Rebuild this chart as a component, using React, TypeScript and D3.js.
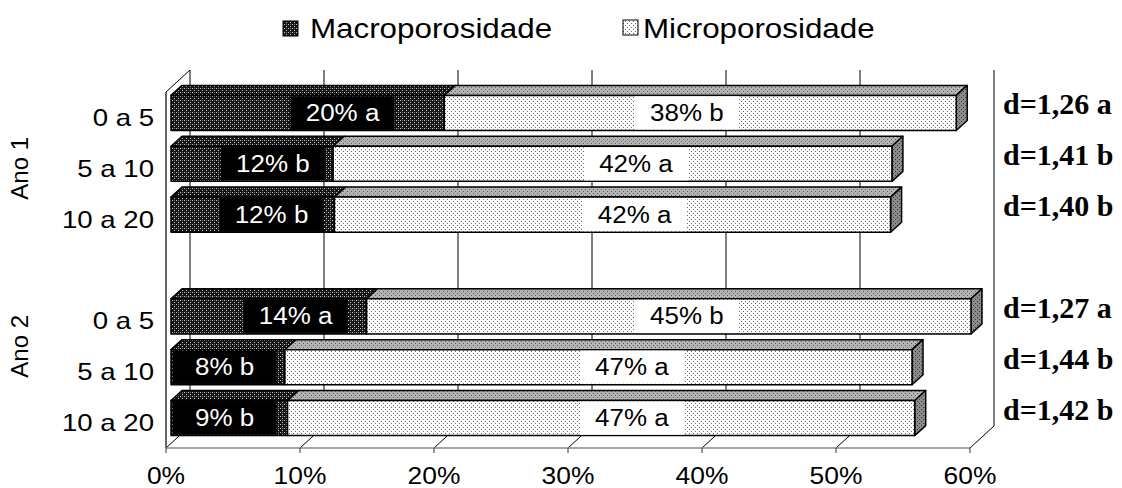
import * as d3 from "d3";

const groups = ["Ano 1", "Ano 2"];
const categories = ["0 a 5", "5 a 10", "10 a 20"];
const seriesNames = ["Macroporosidade", "Microporosidade"];

// per bar, top to bottom (Ano 1 then Ano 2)
const macro = [20.4, 12.1, 12.2, 14.6, 8.5, 8.7];
const micro = [38.2, 41.7, 41.5, 45.1, 46.8, 46.8];
const macroLabels = ["20% a", "12% b", "12% b", "14% a", "8% b", "9% b"];
const microLabels = ["38% b", "42% a", "42% a", "45% b", "47% a", "47% a"];
const densityLabels = ["d=1,26 a", "d=1,41 b", "d=1,40 b", "d=1,27 a", "d=1,44 b", "d=1,42 b"];
// the labels were placed by hand in the original, centre in % units
const macroLabelAt = [12.8, 7.6, 7.5, 9.3, 4.0, 4.0];
const microLabelAt = [38.5, 34.7, 34.6, 38.5, 34.4, 34.4];
const xTicks = [0, 10, 20, 30, 40, 50, 60];

const width = 1122;
const height = 488;
const sans = "'Liberation Sans', Arial, sans-serif";
const serif = "'Liberation Serif', 'Times New Roman', serif";

// 3d offsets
const wall = { dx: 24, dy: -22 };
const barFront = { dx: 5, dy: -4.5 };
const barDepth = { dx: 11, dy: -10 };

type Row = { key: string; group: string; cat: string; bar: number };

const rows: Row[] = [];
let barIdx = 0;
groups.forEach((g, gi) => {
  if (gi > 0) rows.push({ key: "gap" + gi, group: g, cat: "", bar: -1 });
  categories.forEach((c) => {
    rows.push({ key: g + "|" + c, group: g, cat: c, bar: barIdx++ });
  });
});

const x = d3.scaleLinear().domain([0, 60]).range([166, 970]);
const y = d3
  .scaleBand<string>()
  .domain(rows.map((r) => r.key))
  .range([92, 448])
  .paddingInner(0.31)
  .paddingOuter(0.155);

const floorY = 448;
const wallTop = 92;

const pts = (p: [number, number][]) => p.map((d) => d.join(",")).join(" ");

function Bar({ row }: { row: Row }) {
  const i = row.bar;
  const top = y(row.key)! + barFront.dy;
  const bot = top + y.bandwidth();
  const x0 = x(0) + barFront.dx;
  const xm = x(macro[i]) + barFront.dx;
  const x1 = x(macro[i] + micro[i]) + barFront.dx;
  const { dx, dy } = barDepth;
  const bw = 104;
  const mc = x(macroLabelAt[i]) + barFront.dx;
  const uc = x(microLabelAt[i]) + barFront.dx;
  const cy = (top + bot) / 2;
  const mLeft = Math.max(x0 + 1, mc - bw / 2);
  const mRight = Math.min(xm - 1, mc + bw / 2);
  return (
    <g stroke="#000" strokeWidth={1.5} strokeLinejoin="round">
      <polygon points={pts([[x0, top], [x0 + dx, top + dy], [xm + dx, top + dy], [xm, top]])} fill="url(#darkDots)" />
      <rect x={x0} y={top} width={xm - x0} height={bot - top} fill="url(#darkDots)" />
      <polygon points={pts([[xm, top], [xm + dx, top + dy], [x1 + dx, top + dy], [x1, top]])} fill="url(#greyDots)" />
      <polygon points={pts([[x1, top], [x1 + dx, top + dy], [x1 + dx, bot + dy], [x1, bot]])} fill="url(#sideDots)" />
      <rect x={xm} y={top} width={x1 - xm} height={bot - top} fill="url(#lightDots)" />
      <rect x={mLeft} y={top + 1} width={mRight - mLeft} height={bot - top - 2} fill="#000" stroke="none" />
      <rect x={uc - bw / 2} y={top + 1} width={bw} height={bot - top - 2} fill="#fff" stroke="none" />
      <text transform={`translate(${mc},${cy + 8}) scale(1.13,1)`} textAnchor="middle" fill="#fff" stroke="none" fontFamily={sans} fontSize={23}>
        {macroLabels[i]}
      </text>
      <text transform={`translate(${uc},${cy + 8}) scale(1.13,1)`} textAnchor="middle" fill="#000" stroke="none" fontFamily={sans} fontSize={23}>
        {microLabels[i]}
      </text>
    </g>
  );
}

export default function App() {
  const groupCenter = (g: string) => {
    const rs = rows.filter((r) => r.group === g);
    const a = y(rs[0].key)! - (y.step() - y.bandwidth()) / 2;
    const b = y(rs[rs.length - 1].key)! + y.bandwidth() + (y.step() - y.bandwidth()) / 2;
    return (a + b) / 2;
  };
  return (
    <svg width={width} height={height} viewBox={`0 0 ${width} ${height}`} style={{ display: "block", position: "absolute", left: 0, top: 0, background: "#fff" }}>
      <defs>
        <pattern id="darkDots" patternUnits="userSpaceOnUse" width={4} height={4}>
          <rect width={4} height={4} fill="#151515" />
          <rect x={0} y={0} width={1} height={1} fill="#c8c8c8" />
          <rect x={2} y={2} width={1} height={1} fill="#c8c8c8" />
          <rect x={2} y={0} width={1} height={1} fill="#6a6a6a" />
        </pattern>
        <pattern id="lightDots" patternUnits="userSpaceOnUse" width={4} height={4}>
          <rect width={4} height={4} fill="#fff" />
          <rect x={1} y={1} width={1} height={1} fill="#666" />
          <rect x={3} y={3} width={1} height={1} fill="#666" />
        </pattern>
        <pattern id="greyDots" patternUnits="userSpaceOnUse" width={4} height={4}>
          <rect width={4} height={4} fill="#b4b4b4" />
          <rect x={1} y={1} width={1} height={1} fill="#5a5a5a" />
          <rect x={3} y={3} width={1} height={1} fill="#5a5a5a" />
        </pattern>
        <pattern id="sideDots" patternUnits="userSpaceOnUse" width={4} height={4}>
          <rect width={4} height={4} fill="#8a8a8a" />
          <rect x={1} y={1} width={1} height={1} fill="#3a3a3a" />
          <rect x={3} y={3} width={1} height={1} fill="#3a3a3a" />
        </pattern>
      </defs>

      {/* back wall gridlines */}
      {xTicks.map((t) => (
        <line key={"g" + t} x1={x(t) + wall.dx} x2={x(t) + wall.dx} y1={wallTop + wall.dy} y2={floorY + wall.dy} stroke="#000" strokeWidth={1} />
      ))}
      {/* floor gridlines */}
      {xTicks.map((t) => (
        <line key={"f" + t} x1={x(t)} y1={floorY} x2={x(t) + wall.dx} y2={floorY + wall.dy} stroke="#000" strokeWidth={1} />
      ))}
      {/* left wall */}
      <line x1={x(0)} x2={x(0)} y1={wallTop} y2={floorY} stroke="#000" strokeWidth={1.2} />
      <line x1={x(0)} y1={wallTop} x2={x(0) + wall.dx} y2={wallTop + wall.dy} stroke="#000" strokeWidth={1} />
      {/* floor front edge and ticks */}
      <line x1={x(0)} x2={x(60)} y1={floorY} y2={floorY} stroke="#888" strokeWidth={1.5} />
      {xTicks.map((t) => (
        <line key={"t" + t} x1={x(t)} x2={x(t)} y1={floorY} y2={floorY + 5} stroke="#333" strokeWidth={1} />
      ))}
      {xTicks.map((t) => (
        <text key={"l" + t} transform={`translate(${x(t)},483.5) scale(1.1,1)`} textAnchor="middle" fontFamily={sans} fontSize={24} fill="#000">
          {t + "%"}
        </text>
      ))}

      {rows.filter((r) => r.bar >= 0).map((r) => (
        <Bar key={r.key} row={r} />
      ))}

      {/* category labels */}
      {rows.filter((r) => r.bar >= 0).map((r) => (
        <text key={"c" + r.key} transform={`translate(154,${y(r.key)! + y.bandwidth() / 2 + 8.5}) scale(1.2,1)`} textAnchor="end" fontFamily={sans} fontSize={23} fill="#000">
          {r.cat}
        </text>
      ))}
      {groups.map((g) => (
        <text key={g} transform={`translate(28,${groupCenter(g)}) rotate(-90)`} textAnchor="middle" fontFamily={sans} fontSize={24} fill="#000">
          {g}
        </text>
      ))}

      {/* density labels */}
      {rows.filter((r) => r.bar >= 0).map((r) => (
        <text key={"d" + r.key} x={1003} y={y(r.key)! + y.bandwidth() / 2 - 3} fontFamily={serif} fontWeight="bold" fontSize={30} fill="#000">
          {densityLabels[r.bar]}
        </text>
      ))}

      {/* legend */}
      <rect x={283} y={21} width={15} height={15} fill="url(#darkDots)" stroke="#000" strokeWidth={1} />
      <text transform="translate(310,37.5) scale(1.1,1)" fontFamily={sans} fontSize={28.5} fill="#000">
        {seriesNames[0]}
      </text>
      <rect x={623} y={20} width={15} height={15} fill="url(#lightDots)" stroke="#000" strokeWidth={1} />
      <text transform="translate(643,37.5) scale(1.1,1)" fontFamily={sans} fontSize={28.5} fill="#000">
        {seriesNames[1]}
      </text>
    </svg>
  );
}
